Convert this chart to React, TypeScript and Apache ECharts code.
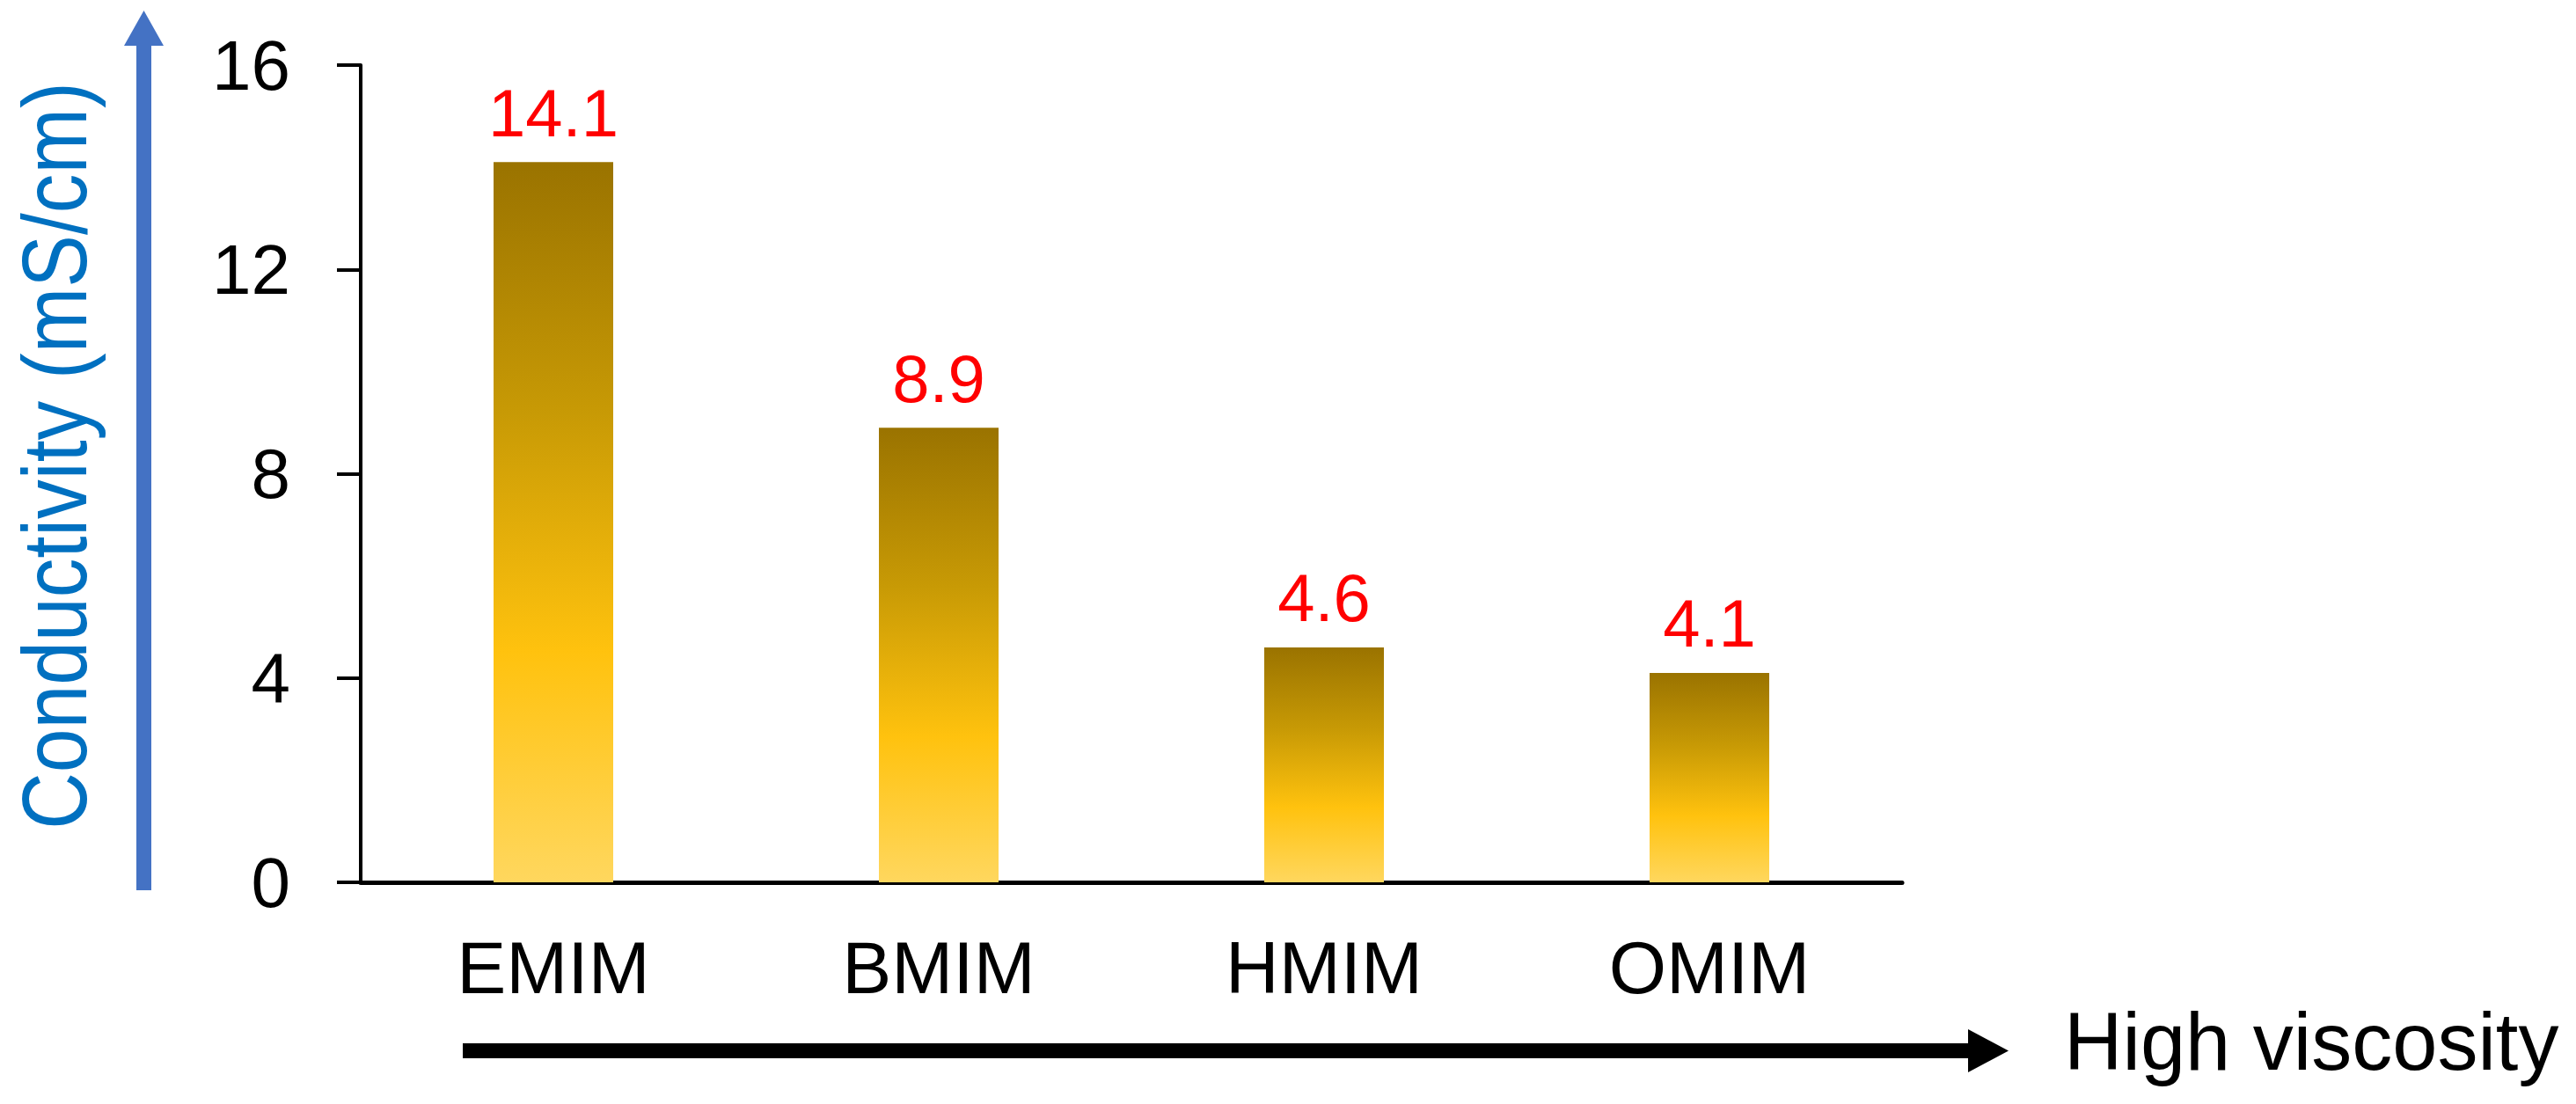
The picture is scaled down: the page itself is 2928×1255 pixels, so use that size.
import React, { useEffect, useRef } from "react";
import * as echarts from "echarts";

const categories = ["EMIM", "BMIM", "HMIM", "OMIM"];
const conductivity = [14.1, 8.9, 4.6, 4.1];
const yMin = 0;
const yMax = 16;
const yInterval = 4;
const yAxisTitle = "Conductivity (mS/cm)";
const arrowLabel = "High viscosity";

const FONT = "'Liberation Sans', Arial, sans-serif";

export default function App() {
  const ref = useRef<HTMLDivElement>(null);

  useEffect(() => {
    document.body.style.margin = "0";
    if (!ref.current) return;
    const chart = echarts.init(ref.current, null, { renderer: "svg" });

    const barGradient = new echarts.graphic.LinearGradient(0, 0, 0, 1, [
      { offset: 0, color: "#9a7300" },
      { offset: 0.35, color: "#c89a05" },
      { offset: 0.68, color: "#ffc20e" },
      { offset: 1, color: "#ffd75e" },
    ]);

    chart.setOption({
      animation: false,
      backgroundColor: "#ffffff",
      grid: { left: 410, top: 74, right: 766, bottom: 252, containLabel: false },
      xAxis: {
        type: "category",
        data: categories,
        axisLine: { lineStyle: { color: "#000", width: 5 } },
        axisTick: { show: false },
        axisLabel: {
          color: "#000",
          fontSize: 84,
          fontFamily: FONT,
          margin: 55,
        },
      },
      yAxis: {
        type: "value",
        min: yMin,
        max: yMax,
        interval: yInterval,
        splitLine: { show: false },
        axisLine: { show: true, lineStyle: { color: "#000", width: 4 } },
        axisTick: { show: true, length: 27, lineStyle: { color: "#000", width: 4 } },
        axisLabel: {
          color: "#000",
          fontSize: 80,
          fontFamily: FONT,
          margin: 80,
        },
      },
      series: [
        {
          type: "bar",
          data: conductivity,
          barWidth: 136,
          itemStyle: { color: barGradient },
          label: {
            show: true,
            position: "top",
            distance: 18,
            color: "#ff0000",
            fontSize: 76,
            fontFamily: FONT,
            formatter: (p: any) => p.value.toFixed(1),
          },
        },
      ],
      graphic: [
        // blue vertical arrow
        {
          type: "rect",
          shape: { x: 155, y: 50, width: 17, height: 962 },
          style: { fill: "#4472c4" },
        },
        {
          type: "polygon",
          shape: { points: [[163.5, 12], [141, 52], [186, 52]] },
          style: { fill: "#4472c4" },
        },
        // y axis title
        {
          type: "text",
          x: 62,
          y: 518,
          rotation: Math.PI / 2,
          scaleX: 0.86,
          style: {
            text: yAxisTitle,
            fill: "#0070c0",
            fontSize: 104,
            fontFamily: FONT,
            align: "center",
            verticalAlign: "middle",
          },
        },
        // black horizontal arrow
        {
          type: "rect",
          shape: { x: 526, y: 1186, width: 1714, height: 17 },
          style: { fill: "#000" },
        },
        {
          type: "polygon",
          shape: { points: [[2283, 1194.5], [2237, 1170], [2237, 1219]] },
          style: { fill: "#000" },
        },
        {
          type: "text",
          x: 2346,
          y: 1184,
          style: {
            text: arrowLabel,
            fill: "#000",
            fontSize: 92,
            fontFamily: FONT,
            align: "left",
            verticalAlign: "middle",
          },
        },
      ],
    });

    return () => chart.dispose();
  }, []);

  return <div ref={ref} style={{ width: 2928, height: 1255 }} />;
}
